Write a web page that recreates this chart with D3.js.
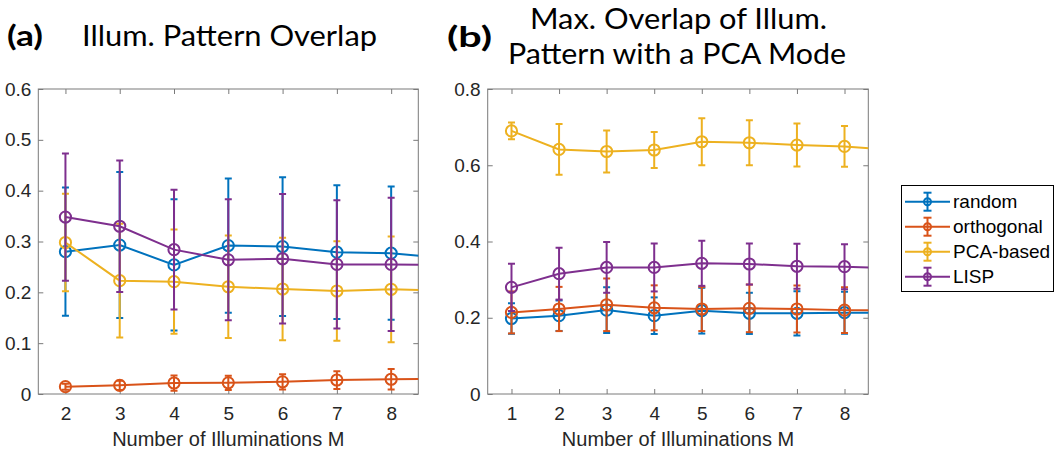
<!DOCTYPE html>
<html>
<head>
<meta charset="utf-8">
<script src="https://cdn.jsdelivr.net/npm/d3@7"></script>
<style>
  body { margin: 0; background: #fff; }
  svg { display: block; }
</style>
</head>
<body>
<svg id="fig" width="1058" height="452"></svg>
<script>
// series names and colours (MATLAB default order)
var seriesNames = ["random", "orthogonal", "PCA-based", "LISP"];
var seriesColors = ["#0072BD", "#D95319", "#EDB120", "#7E2F8E"];

// panel (a): Illum. Pattern Overlap, M = 2..9 (9 is past the axis edge)
var mA = [2, 3, 4, 5, 6, 7, 8, 9];
var randomA     = [0.280, 0.293, 0.254, 0.292, 0.290, 0.279, 0.277, 0.267];
var randomAErr  = [0.126, 0.1435, 0.129, 0.132, 0.1365, 0.1315, 0.131, 0.130];
var orthoA      = [0.0144, 0.017, 0.0216, 0.022, 0.024, 0.0275, 0.029, 0.030];
var orthoAErr   = [0.006, 0.009, 0.015, 0.014, 0.015, 0.0175, 0.020, 0.020];
var pcaA        = [0.298, 0.223, 0.221, 0.211, 0.2066, 0.2026, 0.206, 0.203];
var pcaAErr     = [0.096, 0.112, 0.1025, 0.101, 0.101, 0.098, 0.104, 0.100];
var lispA       = [0.348, 0.330, 0.284, 0.264, 0.266, 0.255, 0.255, 0.254];
var lispAErr    = [0.125, 0.1295, 0.118, 0.119, 0.1275, 0.126, 0.131, 0.130];
var yTicksA = [0, 0.1, 0.2, 0.3, 0.4, 0.5, 0.6];
var xTicksA = [2, 3, 4, 5, 6, 7, 8];

// panel (b): Max. Overlap with a PCA Mode, M = 1..9
var mB = [1, 2, 3, 4, 5, 6, 7, 8, 9];
var randomB     = [0.198, 0.2054, 0.220, 0.2054, 0.2185, 0.2115, 0.2115, 0.2133, 0.213];
var randomBErr  = [0.040, 0.040, 0.060, 0.048, 0.060, 0.054, 0.058, 0.055, 0.055];
var orthoB      = [0.214, 0.223, 0.234, 0.226, 0.223, 0.2247, 0.223, 0.220, 0.219];
var orthoBErr   = [0.055, 0.058, 0.069, 0.059, 0.058, 0.0625, 0.0615, 0.060, 0.060];
var pcaB        = [0.690, 0.6416, 0.636, 0.640, 0.6617, 0.659, 0.653, 0.6495, 0.6405];
var pcaBErr     = [0.022, 0.0665, 0.055, 0.047, 0.0615, 0.059, 0.0565, 0.0535, 0.055];
var lispB       = [0.2797, 0.3156, 0.332, 0.332, 0.3427, 0.341, 0.335, 0.334, 0.330];
var lispBErr    = [0.062, 0.068, 0.0665, 0.063, 0.059, 0.054, 0.059, 0.059, 0.059];
var yTicksB = [0, 0.2, 0.4, 0.6, 0.8];
var xTicksB = [1, 2, 3, 4, 5, 6, 7, 8];

var svg = d3.select("#fig");
var tickFont = "Liberation Sans, Arial, sans-serif";
var titleFont = "Lato, 'Open Sans', sans-serif";

function panel(id, left, right, top, bottom, xDom, yDom, xTicks, yTicks, ms, vals, errs){
	var x = d3.scaleLinear().domain(xDom).range([left, right]);
	var y = d3.scaleLinear().domain(yDom).range([bottom, top]);

	svg.append("clipPath").attr("id", id)
		.append("rect")
		.attr("x", left).attr("y", top - 20)
		.attr("width", right - left).attr("height", bottom - top + 40);

	// axes (ticks inward on all four sides)
	var gx = svg.append("g").attr("transform", "translate(0," + bottom + ")")
		.call(d3.axisBottom(x).tickValues(xTicks).tickSizeInner(-5).tickSizeOuter(0).tickPadding(13).tickFormat(d3.format("d")));
	var gy = svg.append("g").attr("transform", "translate(" + left + ",0)")
		.call(d3.axisLeft(y).tickValues(yTicks).tickSizeInner(-5).tickSizeOuter(0).tickPadding(7).tickFormat(function(d){ return d === 0 ? "0" : d3.format(".1f")(d); }));
	var gt = svg.append("g").attr("transform", "translate(0," + top + ")")
		.call(d3.axisTop(x).tickValues(xTicks).tickSizeInner(-5).tickSizeOuter(0).tickFormat(""));
	var gr = svg.append("g").attr("transform", "translate(" + right + ",0)")
		.call(d3.axisRight(y).tickValues(yTicks).tickSizeInner(-5).tickSizeOuter(0).tickFormat(""));
	[gx, gy, gt, gr].forEach(function(g){
		g.select(".domain").remove();
		g.selectAll(".tick line").attr("stroke", "#7a7a7a");
		g.selectAll(".tick text").attr("fill", "#262626").style("font-family", tickFont).style("font-size", "19px");
	});

	svg.append("rect")
		.attr("x", left).attr("y", top)
		.attr("width", right - left).attr("height", bottom - top)
		.attr("fill", "none").attr("stroke", "#7a7a7a").attr("stroke-width", 1);

	svg.append("text")
		.attr("x", (left + right) / 2).attr("y", 446)
		.attr("text-anchor", "middle")
		.style("font-family", tickFont).style("font-size", "20px").attr("fill", "#262626")
		.text("Number of Illuminations M");

	var plot = svg.append("g").attr("clip-path", "url(#" + id + ")");
	var line = d3.line().x(function(d){ return x(d.m); }).y(function(d){ return y(d.v); });

	for (var s = 0; s < vals.length; s++){
		var pts = ms.map(function(m, i){ return {m: m, v: vals[s][i], e: errs[s][i]}; });
		var col = seriesColors[s];
		var g = plot.append("g").attr("stroke", col).attr("fill", "none").attr("stroke-width", 2);
		g.append("path").datum(pts).attr("d", line);
		pts.forEach(function(p){
			var cx = x(p.m);
			g.append("line").attr("x1", cx).attr("x2", cx).attr("y1", y(p.v - p.e)).attr("y2", y(p.v + p.e));
			g.append("line").attr("x1", cx - 3.5).attr("x2", cx + 3.5).attr("y1", y(p.v - p.e)).attr("y2", y(p.v - p.e));
			g.append("line").attr("x1", cx - 3.5).attr("x2", cx + 3.5).attr("y1", y(p.v + p.e)).attr("y2", y(p.v + p.e));
			g.append("circle").attr("cx", cx).attr("cy", y(p.v)).attr("r", 5.6);
		});
	}
}

panel("clipA", 38.3, 418.3, 89, 394, [1.5, 8.5], [0, 0.6], xTicksA, yTicksA, mA,
	[randomA, orthoA, pcaA, lispA], [randomAErr, orthoAErr, pcaAErr, lispAErr]);
panel("clipB", 487.7, 868.3, 89, 394, [0.5, 8.5], [0, 0.8], xTicksB, yTicksB, mB,
	[randomB, orthoB, pcaB, lispB], [randomBErr, orthoBErr, pcaBErr, lispBErr]);

// titles
function title(txt, x, y, w, bold){
	svg.append("text").attr("x", x).attr("y", y)
		.attr("textLength", w).attr("lengthAdjust", "spacingAndGlyphs")
		.style("font-family", titleFont).style("font-size", "28px")
		.style("font-weight", bold ? "bold" : "normal")
		.attr("fill", "#000").text(txt);
}
title("(a)", 7, 46, 36, true);
title("Illum. Pattern Overlap", 82, 46, 295, false);
title("(b)", 447, 47, 45, true);
title("Max. Overlap of Illum.", 530, 29, 297, false);
title("Pattern with a PCA Mode", 508, 64, 338, false);

// legend
var legX = 901.5, legY = 185.5;
svg.append("rect").attr("x", legX).attr("y", legY).attr("width", 152).attr("height", 106)
	.attr("fill", "#fff").attr("stroke", "#000").attr("stroke-width", 1);
seriesNames.forEach(function(name, i){
	var ly = 201.7 + i * 25;
	var g = svg.append("g").attr("stroke", seriesColors[i]).attr("fill", "none").attr("stroke-width", 2);
	g.append("line").attr("x1", 905).attr("x2", 950).attr("y1", ly).attr("y2", ly);
	g.append("line").attr("x1", 927.5).attr("x2", 927.5).attr("y1", ly - 9).attr("y2", ly + 9);
	g.append("line").attr("x1", 923.5).attr("x2", 931.5).attr("y1", ly - 9).attr("y2", ly - 9);
	g.append("line").attr("x1", 923.5).attr("x2", 931.5).attr("y1", ly + 9).attr("y2", ly + 9);
	g.append("circle").attr("cx", 927.5).attr("cy", ly).attr("r", 3.5);
	svg.append("text").attr("x", 953).attr("y", ly).attr("dy", "0.35em")
		.style("font-family", tickFont).style("font-size", "19px").attr("fill", "#000")
		.text(name);
});
</script>
</body>
</html>
